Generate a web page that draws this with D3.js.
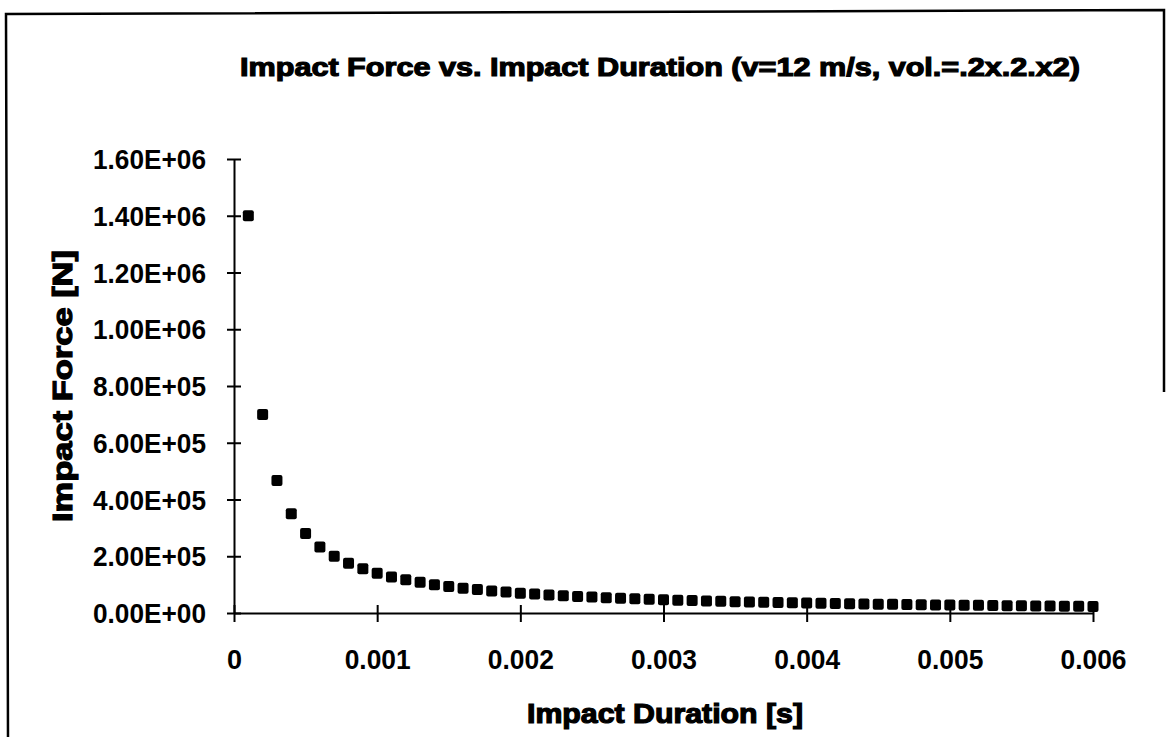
<!DOCTYPE html>
<html>
<head>
<meta charset="utf-8">
<script src="https://cdn.jsdelivr.net/npm/d3@7"></script>
<style>
  html, body { margin: 0; padding: 0; background: #fff; }
  svg { display: block; }
  text { fill: #000; }
  .tick text { font-family: "Liberation Sans", Arial, sans-serif; font-weight: bold; font-size: 27px; }
</style>
</head>
<body>
<svg id="chart" width="1169" height="737"></svg>
<script>
// ---- data ----
const durations = [
  0.0001, 0.0002, 0.0003, 0.0004, 0.0005, 0.0006, 0.0007, 0.0008, 0.0009, 0.0010,
  0.0011, 0.0012, 0.0013, 0.0014, 0.0015, 0.0016, 0.0017, 0.0018, 0.0019, 0.0020,
  0.0021, 0.0022, 0.0023, 0.0024, 0.0025, 0.0026, 0.0027, 0.0028, 0.0029, 0.0030,
  0.0031, 0.0032, 0.0033, 0.0034, 0.0035, 0.0036, 0.0037, 0.0038, 0.0039, 0.0040,
  0.0041, 0.0042, 0.0043, 0.0044, 0.0045, 0.0046, 0.0047, 0.0048, 0.0049, 0.0050,
  0.0051, 0.0052, 0.0053, 0.0054, 0.0055, 0.0056, 0.0057, 0.0058, 0.0059, 0.0060
];
const forces = [
  1400000, 700000, 467000, 350000, 280000, 233000, 200000, 175000, 156000, 140000,
  127000, 117000, 108000, 100000, 93300, 87500, 82400, 77800, 73700, 70000,
  66700, 63600, 60900, 58300, 56000, 53800, 51900, 50000, 48300, 46700,
  45200, 43800, 42400, 41200, 40000, 38900, 37800, 36800, 35900, 35000,
  34100, 33300, 32600, 31800, 31100, 30400, 29800, 29200, 28600, 28000,
  27500, 26900, 26400, 25900, 25500, 25000, 24600, 24100, 23700, 23300
];
const xTicks = [0, 0.001, 0.002, 0.003, 0.004, 0.005, 0.006];
const xTickLabels = ["0", "0.001", "0.002", "0.003", "0.004", "0.005", "0.006"];
const yTicks = [0, 200000, 400000, 600000, 800000, 1000000, 1200000, 1400000, 1600000];
const yTickLabels = ["0.00E+00", "2.00E+05", "4.00E+05", "6.00E+05", "8.00E+05",
                     "1.00E+06", "1.20E+06", "1.40E+06", "1.60E+06"];
const chartTitle = "Impact Force vs. Impact Duration (v=12 m/s, vol.=.2x.2.x2)";
const xTitle = "Impact Duration [s]";
const yTitle = "Impact Force [N]";

// ---- drawing ----
const svg = d3.select("#chart");
const plot = { left: 234, right: 1093, top: 159, bottom: 613 };

const x = d3.scaleLinear().domain([0, 0.006]).range([plot.left, plot.right]);
const y = d3.scaleLinear().domain([0, 1600000]).range([plot.bottom, plot.top]);

// frame (scanned border)
svg.append("path")
  .attr("d", "M1164,392 L1164,10 L6,14 L8,737")
  .attr("fill", "none").attr("stroke", "#000").attr("stroke-width", 2.5);

// y axis
const yAxis = d3.axisLeft(y).tickValues(yTicks)
  .tickFormat((d, i) => yTickLabels[i]).tickSizeInner(7).tickSizeOuter(0).tickPadding(20);
const gy = svg.append("g").attr("transform", `translate(${plot.left},0)`).call(yAxis);
gy.attr("font-family", null).attr("font-size", null);
gy.select(".domain").attr("stroke-width", 2);
gy.selectAll(".tick line").attr("x2", 7).attr("x1", -7).attr("stroke-width", 2);
gy.selectAll(".tick text").attr("x", -28).attr("dy", "0.36em").attr("fill", "#000")
  .attr("textLength", 113).attr("lengthAdjust", "spacingAndGlyphs");

// x axis
const xAxis = d3.axisBottom(x).tickValues(xTicks)
  .tickFormat((d, i) => xTickLabels[i]).tickSizeInner(9).tickSizeOuter(0).tickPadding(20);
const gx = svg.append("g").attr("transform", `translate(0,${plot.bottom})`).call(xAxis);
gx.attr("font-family", null).attr("font-size", null);
gx.select(".domain").attr("stroke-width", 2);
gx.selectAll(".tick line").attr("y1", -8).attr("y2", 9).attr("stroke-width", 2);
gx.selectAll(".tick text").attr("y", 37).attr("dy", "0.71em").attr("fill", "#000")
  .attr("textLength", (d, i) => i === 0 ? null : 66)
  .attr("lengthAdjust", "spacingAndGlyphs");
svg.selectAll(".domain").attr("stroke", "#000");
svg.selectAll(".tick line").attr("stroke", "#000");

// points
const pts = durations.map((d, i) => ({ t: d, f: forces[i] }));
const s = 11;
svg.append("g").selectAll("rect").data(pts).join("rect")
  .attr("x", d => x(d.t) - s / 2)
  .attr("y", d => y(d.f) - s / 2)
  .attr("width", s).attr("height", s)
  .attr("rx", 2).attr("ry", 2)
  .attr("fill", "#000");

// titles
const titleFont = "'Liberation Sans', Arial, sans-serif";
svg.append("text")
  .attr("x", 660).attr("y", 76).attr("text-anchor", "middle")
  .attr("font-family", titleFont).attr("font-weight", "bold").attr("font-size", 26)
  .attr("stroke", "#000").attr("stroke-width", 1.2)
  .attr("textLength", 840).attr("lengthAdjust", "spacingAndGlyphs")
  .text(chartTitle);

svg.append("text")
  .attr("x", 665).attr("y", 723).attr("text-anchor", "middle")
  .attr("font-family", titleFont).attr("font-weight", "bold").attr("font-size", 27)
  .attr("stroke", "#000").attr("stroke-width", 1.2)
  .attr("textLength", 276).attr("lengthAdjust", "spacingAndGlyphs")
  .text(xTitle);

svg.append("text")
  .attr("transform", "translate(72,386) rotate(-90)")
  .attr("text-anchor", "middle")
  .attr("font-family", titleFont).attr("font-weight", "bold").attr("font-size", 27)
  .attr("stroke", "#000").attr("stroke-width", 1.2)
  .attr("textLength", 272).attr("lengthAdjust", "spacingAndGlyphs")
  .text(yTitle);
</script>
</body>
</html>
